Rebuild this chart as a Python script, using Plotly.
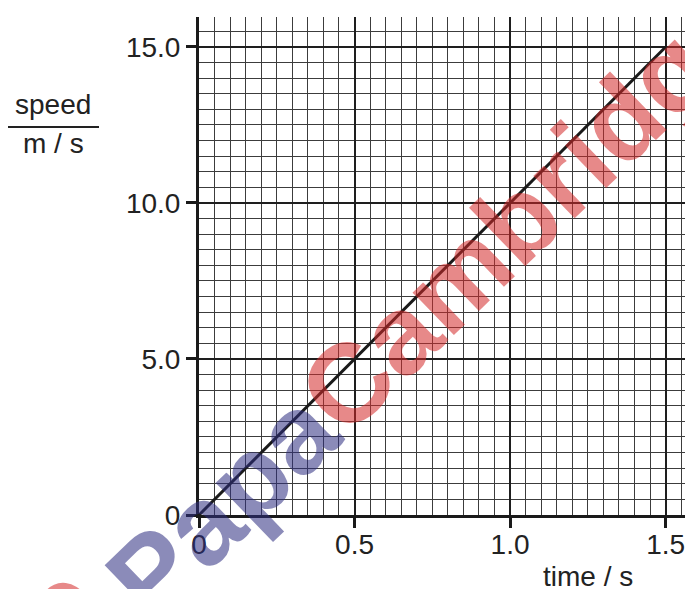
import plotly.graph_objects as go

# data
time_s = [0.0, 1.5]
speed_ms = [0.0, 15.0]
x_tickvals = [0, 0.5, 1.0, 1.5]
x_ticktext = ["0", "0.5", "1.0", "1.5"]
y_tickvals = [0, 5, 10, 15]
y_ticktext = ["0", "5.0", "10.0", "15.0"]

OFF = 8  # page body margin
W, H = 693 - OFF, 589 - OFF
L, T = 199 - OFF, 17 - OFF
B = H - (515 - OFF)
R = 0
pw, ph = W - L - R, H - T - B

def px(x):  # page pixel -> paper
    return (x - OFF - L) / pw

def py(y):
    return (H - B - (y - OFF)) / ph

fig = go.Figure()
fig.add_trace(go.Scatter(x=time_s, y=speed_ms, mode="lines",
                         line=dict(color="#1a1a1a", width=3), showlegend=False,
                         hoverinfo="skip"))

font = dict(family="Liberation Sans, Arial, sans-serif", size=28, color="#222")

axis_common = dict(
    showgrid=True, gridcolor="#1e1e1e", gridwidth=2,
    showline=True, linecolor="#1a1a1a", linewidth=3,
    ticks="outside", ticklen=10, tickwidth=3, tickcolor="#1a1a1a",
    zeroline=False, fixedrange=True, automargin=False,
)

fig.update_layout(
    width=W, height=H,
    margin=dict(l=L, r=R, t=T, b=B, pad=0, autoexpand=False),
    paper_bgcolor="white", plot_bgcolor="white",
    font=font,
    xaxis=dict(range=[0, 1.588], tickvals=x_tickvals, ticktext=x_ticktext,
               minor=dict(dtick=0.05, showgrid=True, gridcolor="#3c3c3c", gridwidth=1, ticks=""),
               ticklabelstandoff=-8, **axis_common),
    yaxis=dict(range=[0, 15.96], tickvals=y_tickvals, ticktext=y_ticktext,
               minor=dict(dtick=0.5, showgrid=True, gridcolor="#3c3c3c", gridwidth=1, ticks=""),
               ticklabelstandoff=0, **axis_common),
)

# axis titles
fig.add_annotation(x=px(53), y=py(105), xref="paper", yref="paper", text="speed",
                   showarrow=False, font=font, xanchor="center", yanchor="middle")
fig.add_annotation(x=px(53), y=py(143), xref="paper", yref="paper", text="m / s",
                   showarrow=False, font=font, xanchor="center", yanchor="middle")
fig.add_shape(type="line", xref="paper", yref="paper", x0=px(8), x1=px(99),
              y0=py(127), y1=py(127), line=dict(color="#222", width=2))
fig.add_annotation(x=px(588), y=py(576), xref="paper", yref="paper", text="time / s",
                   showarrow=False, font=font, xanchor="center", yanchor="middle")

# watermark (tiled)
wm_text = "<span style='color:#2e2e80'>Papa</span><span style='color:#d42a2a'>Cambridge</span>"
wm_font = dict(family="Liberation Sans, Arial, sans-serif", size=112, weight="bold")
for cx, cy in [(432, 302), (-224, 882)]:
    fig.add_annotation(x=px(cx), y=py(cy), xref="paper", yref="paper",
                       text=wm_text, showarrow=False, textangle=-44, opacity=0.55,
                       font=wm_font, xanchor="center", yanchor="middle")

fig.write_html("out.html")
